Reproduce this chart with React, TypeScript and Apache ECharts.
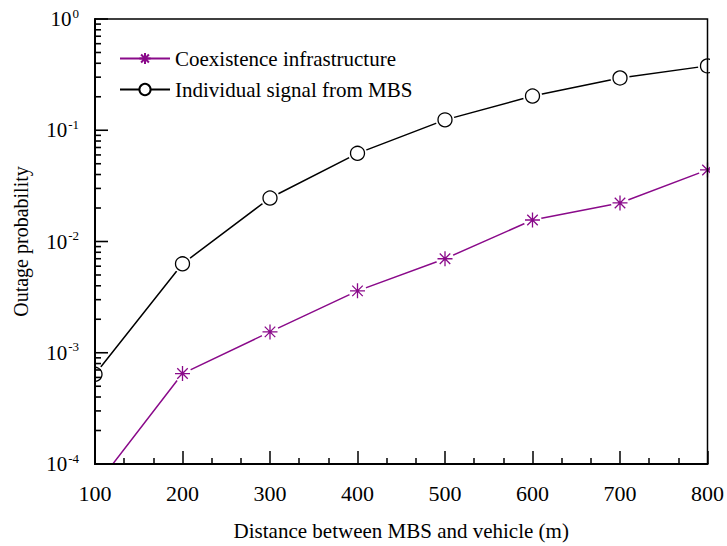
import React, { useEffect, useRef } from "react";
import * as echarts from "echarts";

const xValues = [100, 200, 300, 400, 500, 600, 700, 800];
const coexistence = [6.2e-5, 6.5e-4, 1.54e-3, 3.6e-3, 7.0e-3, 1.56e-2, 2.22e-2, 4.4e-2];
const individual = [6.4e-4, 6.3e-3, 2.46e-2, 6.2e-2, 0.124, 0.203, 0.295, 0.379];
const seriesNames = ["Coexistence infrastructure", "Individual signal from MBS"];
const yMajorTickValues = [1e-4, 1e-3, 1e-2, 1e-1, 1];
const yMinorTickValues = [
  2e-4, 3e-4, 4e-4, 5e-4, 6e-4, 7e-4, 8e-4, 9e-4,
  2e-3, 3e-3, 4e-3, 5e-3, 6e-3, 7e-3, 8e-3, 9e-3,
  2e-2, 3e-2, 4e-2, 5e-2, 6e-2, 7e-2, 8e-2, 9e-2,
  0.2, 0.3, 0.4, 0.5, 0.6, 0.7, 0.8, 0.9,
];

const W = 727;
const H = 546;
const GRID = { left: 95, right: 18, top: 19, bottom: 82 };
const FONT = "Liberation Serif";
const PURPLE = "#8a0a8a";
const ASTERISK = "path://M10,0L10,20M0,10L20,10M3,3L17,17M3,17L17,3";
const MAJOR_LEN = 13;
const MINOR_LEN = 6;

export default function App() {
  const ref = useRef<HTMLDivElement>(null);
  useEffect(() => {
    const chart = echarts.init(ref.current!, null, { renderer: "svg" });
    const pairs = (ys: number[]) => xValues.map((x, i) => [x, ys[i]]);
    const option: any = {
      animation: false,
      backgroundColor: "#fff",
      textStyle: { fontFamily: FONT, color: "#000" },
      grid: {
        ...GRID,
        show: true, borderColor: "#000", borderWidth: 1.5, z: 10,
      },
      legend: {
        data: seriesNames,
        orient: "vertical",
        left: 114,
        top: 43,
        itemWidth: 50,
        itemHeight: 14,
        itemGap: 10,
        textStyle: { fontFamily: FONT, fontSize: 21, color: "#000" },
      },
      xAxis: {
        type: "value",
        z: 10,
        min: 100,
        max: 800,
        interval: 100,
        name: "Distance between MBS and vehicle (m)",
        nameLocation: "middle",
        nameGap: 56,
        nameTextStyle: { fontFamily: FONT, fontSize: 21, color: "#000" },
        axisLine: { lineStyle: { color: "#000", width: 2 } },
        axisTick: { inside: true, length: MAJOR_LEN, lineStyle: { color: "#000", width: 1.5 } },
        minorTick: { show: true, splitNumber: 3, length: MINOR_LEN, lineStyle: { color: "#000", width: 1.5 } },
        axisLabel: { fontFamily: FONT, fontSize: 22, color: "#000", margin: 18 },
        splitLine: { show: false },
      },
      yAxis: {
        type: "log",
        z: 10,
        logBase: 10,
        min: 1e-4,
        max: 1,
        splitNumber: 4,
        name: "Outage probability",
        nameLocation: "middle",
        nameGap: 64,
        nameTextStyle: { fontFamily: FONT, fontSize: 20, color: "#000" },
        axisLine: { lineStyle: { color: "#000", width: 2 } },
        axisTick: { show: false },
        axisLabel: {
          margin: 16,
          formatter: (v: number) => `{b|10}{s|${Math.round(Math.log10(v))}}`,
          rich: {
            b: { fontFamily: FONT, fontSize: 21, color: "#000" },
            s: { fontFamily: FONT, fontSize: 13, color: "#000", verticalAlign: "top", padding: [0, 0, 12, 1] },
          },
        },
        splitLine: { show: false },
      },
      series: [
        {
          name: seriesNames[0],
          type: "line",
          data: pairs(coexistence),
          symbol: ASTERISK,
          symbolSize: 15,
          itemStyle: { color: "rgba(0,0,0,0)", borderColor: PURPLE, borderWidth: 1.3 },
          lineStyle: { color: PURPLE, width: 1.5 },
          z: 2,
        },
        {
          name: "coex-halo",
          type: "line",
          data: pairs(coexistence),
          symbol: "circle",
          symbolSize: 18,
          lineStyle: { width: 0 },
          itemStyle: { color: "#fff", borderWidth: 0 },
          z: 3,
          silent: true,
        },
        {
          name: "coex-marks",
          type: "line",
          data: pairs(coexistence),
          symbol: ASTERISK,
          symbolSize: 15,
          lineStyle: { width: 0 },
          itemStyle: { color: "rgba(0,0,0,0)", borderColor: PURPLE, borderWidth: 1.3 },
          z: 4,
          silent: true,
        },
        {
          name: seriesNames[1],
          type: "line",
          data: pairs(individual),
          symbol: "circle",
          symbolSize: 14,
          itemStyle: { color: "#fff", borderColor: "#000", borderWidth: 1.3 },
          lineStyle: { color: "#000", width: 1.5 },
          z: 2,
        },
        {
          name: "ind-halo",
          type: "line",
          data: pairs(individual),
          symbol: "circle",
          symbolSize: 19,
          lineStyle: { width: 0 },
          itemStyle: { color: "#fff", borderWidth: 0 },
          z: 3,
          silent: true,
        },
        {
          name: "ind-marks",
          type: "line",
          data: pairs(individual),
          symbol: "circle",
          symbolSize: 14,
          lineStyle: { width: 0 },
          itemStyle: { color: "#fff", borderColor: "#000", borderWidth: 1.3 },
          z: 4,
          silent: true,
        },
      ],
    };
    chart.setOption(option);

    // y-axis ticks (majors at decades, minors at 2..9 of each decade), placed via the chart's own log scale
    const tickLines: any[] = [];
    const addTick = (v: number, len: number) => {
      const p = chart.convertToPixel({ gridIndex: 0 } as any, [xValues[0], v]) as number[];
      if (!p || !isFinite(p[0]) || !isFinite(p[1])) return;
      tickLines.push({
        type: "line",
        z: 11,
        silent: true,
        shape: { x1: p[0], y1: p[1], x2: p[0] + len, y2: p[1] },
        style: { stroke: "#000", lineWidth: 1.6 },
      });
    };
    yMajorTickValues.forEach((v) => addTick(v, MAJOR_LEN));
    yMinorTickValues.forEach((v) => addTick(v, MINOR_LEN));

    chart.setOption({
      graphic: [
        { type: "rect", z: 8, silent: true, shape: { x: 0, y: 0, width: GRID.left - 1, height: H }, style: { fill: "#fff" } },
        { type: "rect", z: 8, silent: true, shape: { x: W - GRID.right + 1, y: 0, width: GRID.right, height: H - GRID.bottom + 2 }, style: { fill: "#fff" } },
        ...tickLines,
      ],
    });
    return () => chart.dispose();
  }, []);
  return (
    <div
      ref={ref}
      style={{ position: "fixed", left: 0, top: 0, width: W, height: H, background: "#fff" }}
    />
  );
}
